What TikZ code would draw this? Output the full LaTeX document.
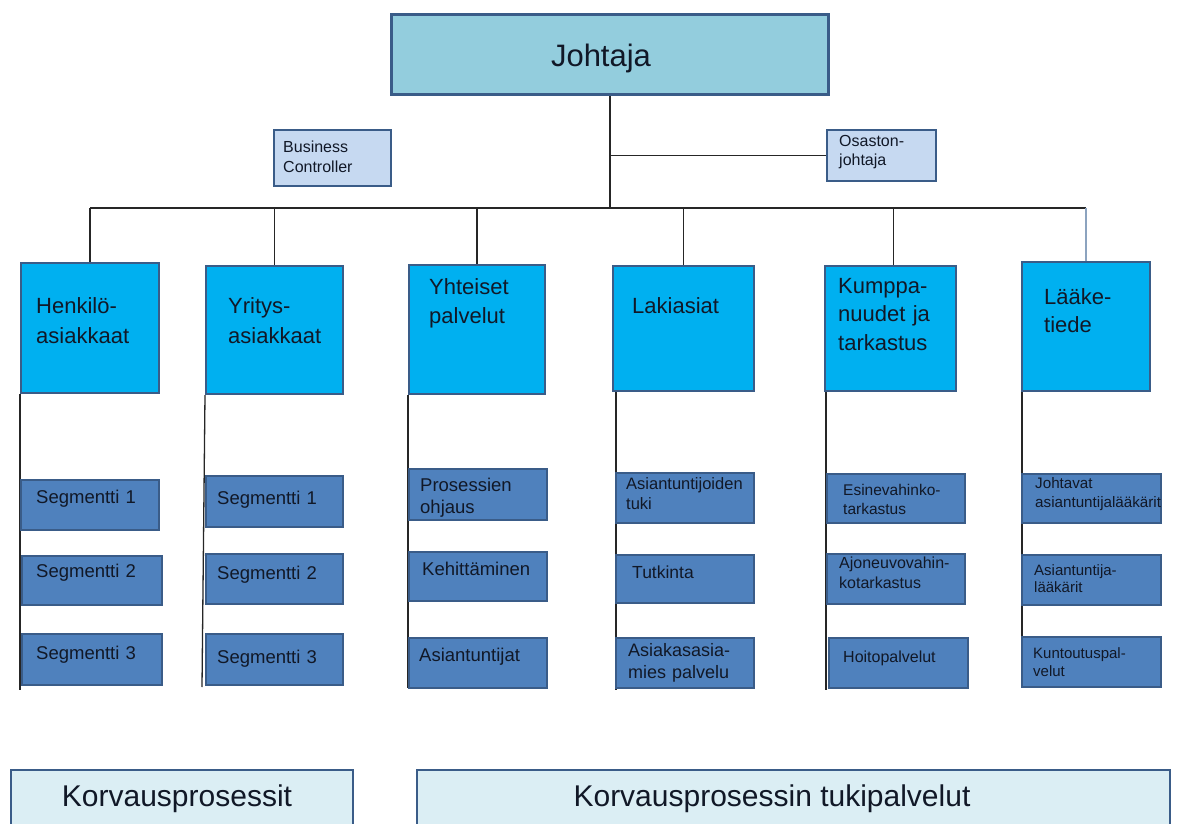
\documentclass[tikz,border=0pt]{standalone}
\usepackage{fontspec}
\setmainfont{Liberation Sans}
\usetikzlibrary{calc}
\definecolor{bord}{HTML}{3A5C88}
\definecolor{topfill}{HTML}{93CDDD}
\definecolor{smallfill}{HTML}{C6D9F1}
\definecolor{hdrfill}{HTML}{00B0F0}
\definecolor{subfill}{HTML}{4F81BD}
\definecolor{botfill}{HTML}{DBEEF4}
\definecolor{txt}{HTML}{111827}
\definecolor{lineblue}{HTML}{8CA3BF}
\pgfdeclarelayer{bg}
\pgfsetlayers{bg,main}
\newcommand{\bx}[6]{\node[#2, anchor=north west, minimum width=#5pt, minimum height=#6pt] (#1) at (#3,#4) {};}
\newcommand{\tx}[6]{\node[lbl, font=\fontsize{#4}{#5}\selectfont] (#1) at (#2,#3) {#6};}
\begin{document}
\begin{tikzpicture}[x=1pt,y=-1pt,
  boxbase/.style={draw=bord, line width=2.2pt, inner sep=0pt, rectangle},
  topbox/.style={boxbase, fill=topfill, line width=2.8pt},
  ctrlbox/.style={boxbase, fill=smallfill},
  hdrbox/.style={boxbase, fill=hdrfill},
  subbox/.style={boxbase, fill=subfill},
  botbox/.style={boxbase, fill=botfill},
  lbl/.style={anchor=base west, align=left, inner sep=0pt, text=txt, text width=200pt},
  conn/.style={draw=black!85, line width=1.3pt}]
\useasboundingbox (0,0) rectangle (1179,824);

% top
\bx{jo}{topbox}{390}{13}{437}{80}
\node[anchor=base, inner sep=0pt, text=txt, font=\fontsize{31}{36}\selectfont] (jot) at (601,67) {Johtaja};
\bx{bc}{ctrlbox}{273}{129}{117}{56}
\tx{bct}{283}{153}{16}{20}{Business\\Controller}
\bx{os}{ctrlbox}{826}{129}{109}{51}
\tx{ost}{839}{147}{16}{18.5}{Osaston-\\johtaja}

% headers
\bx{h1}{hdrbox}{20}{262}{138}{130}
\tx{h1t}{36}{313}{22}{30}{Henkilö-\\asiakkaat}
\bx{h2}{hdrbox}{205}{265}{137}{128}
\tx{h2t}{228}{313}{22}{30}{Yritys-\\asiakkaat}
\bx{h3}{hdrbox}{408}{264}{136}{129}
\tx{h3t}{429}{294}{22}{29}{Yhteiset\\palvelut}
\bx{h4}{hdrbox}{612}{265}{141}{125}
\tx{h4t}{632}{313}{22}{29}{Lakiasiat}
\bx{h5}{hdrbox}{824}{265}{131}{125}
\tx{h5t}{838}{293}{22}{28.5}{Kumppa-\\nuudet ja\\tarkastus}
\bx{h6}{hdrbox}{1021}{261}{128}{129}
\tx{h6t}{1044}{304}{22}{28}{Lääke-\\tiede}

% column 1
\bx{s11}{subbox}{20}{479}{138}{50}
\tx{s11t}{36}{503}{18.5}{22}{Segmentti 1}
\bx{s12}{subbox}{21}{555}{140}{49}
\tx{s12t}{36}{577}{18.5}{22}{Segmentti 2}
\bx{s13}{subbox}{21}{633}{140}{51}
\tx{s13t}{36}{659}{18.5}{22}{Segmentti 3}
% column 2
\bx{s21}{subbox}{205}{475}{137}{51}
\tx{s21t}{217}{504}{18.5}{22}{Segmentti 1}
\bx{s22}{subbox}{205}{553}{137}{50}
\tx{s22t}{217}{579}{18.5}{22}{Segmentti 2}
\bx{s23}{subbox}{205}{633}{137}{51}
\tx{s23t}{217}{663}{18.5}{22}{Segmentti 3}
% column 3
\bx{s31}{subbox}{408}{468}{138}{51}
\tx{s31t}{420}{491}{18.5}{22}{Prosessien\\ohjaus}
\bx{s32}{subbox}{408}{551}{138}{49}
\tx{s32t}{422}{575}{18.5}{22}{Kehittäminen}
\bx{s33}{subbox}{408}{637}{138}{50}
\tx{s33t}{419}{661}{18.5}{22}{Asiantuntijat}
% column 4
\bx{s41}{subbox}{615}{472}{138}{50}
\tx{s41t}{626}{489}{16.5}{20}{Asiantuntijoiden\\tuki}
\bx{s42}{subbox}{615}{554}{138}{48}
\tx{s42t}{632}{578}{17.5}{22}{Tutkinta}
\bx{s43}{subbox}{615}{637}{138}{50}
\tx{s43t}{628}{656}{18}{22}{Asiakasasia-\\mies palvelu}
% column 5
\bx{s51}{subbox}{826}{473}{138}{49}
\tx{s51t}{843}{495}{15.5}{19.5}{Esinevahinko-\\tarkastus}
\bx{s52}{subbox}{826}{553}{138}{50}
\tx{s52t}{839}{568}{16}{20}{Ajoneuvovahin-\\kotarkastus}
\bx{s53}{subbox}{828}{637}{139}{50}
\tx{s53t}{843}{662}{16}{20}{Hoitopalvelut}
% column 6
\bx{s61}{subbox}{1021}{473}{139}{49}
\tx{s61t}{1035}{488}{15.2}{19}{Johtavat\\asiantuntijalääkärit}
\bx{s62}{subbox}{1021}{554}{139}{50}
\tx{s62t}{1034}{575}{15}{17.5}{Asiantuntija-\\lääkärit}
\bx{s63}{subbox}{1021}{636}{139}{50}
\tx{s63t}{1033}{658}{15}{18}{Kuntoutuspal-\\velut}

% bottom
\bx{b1}{botbox}{10}{769}{342}{70}
\node[anchor=base, inner sep=0pt, text=txt, font=\fontsize{30}{36}\selectfont] (b1t) at (177,806) {Korvausprosessit};
\bx{b2}{botbox}{416}{769}{753}{70}
\node[anchor=base, inner sep=0pt, text=txt, font=\fontsize{30}{36}\selectfont] (b2t) at (772,806) {Korvausprosessin tukipalvelut};

% connectors
\coordinate (bus) at (0,208);
\coordinate (bot) at (0,690);
\begin{pgfonlayer}{bg}
\draw[conn] (jo.south) -- (jo.south |- bus);
\draw[conn] (jo.south |- os.west) -- (os.west);
\draw[conn] (h1.north |- bus) -- (h6.north |- bus);
\foreach \h in {h1,h2,h3,h4}{\draw[conn] (\h.north |- bus) -- (\h.north);}
\draw[conn] ($(h5.north |- bus)+(3,0)$) -- ($(h5.north)+(3,0)$);
\draw[conn, draw=lineblue] (h6.north |- bus) -- (h6.north);
\draw[conn] (h1.south west) -- (h1.south west |- bot);
\draw[conn] (h2.south west) -- ($(h2.south west |- bot)+(-3,-3)$);
\draw[conn] (h3.south west) -- ($(h3.south west |- bot)+(0,-2)$);
\draw[conn] ($(h4.south west)+(4,0)$) -- ($(h4.south west |- bot)+(4,0)$);
\draw[conn] ($(h5.south west)+(2,0)$) -- ($(h5.south west |- bot)+(2,0)$);
\draw[conn] ($(h6.south west)+(1,0)$) -- ($(h6.south west |- bot)+(1,-2)$);
\end{pgfonlayer}
\end{tikzpicture}
\end{document}
